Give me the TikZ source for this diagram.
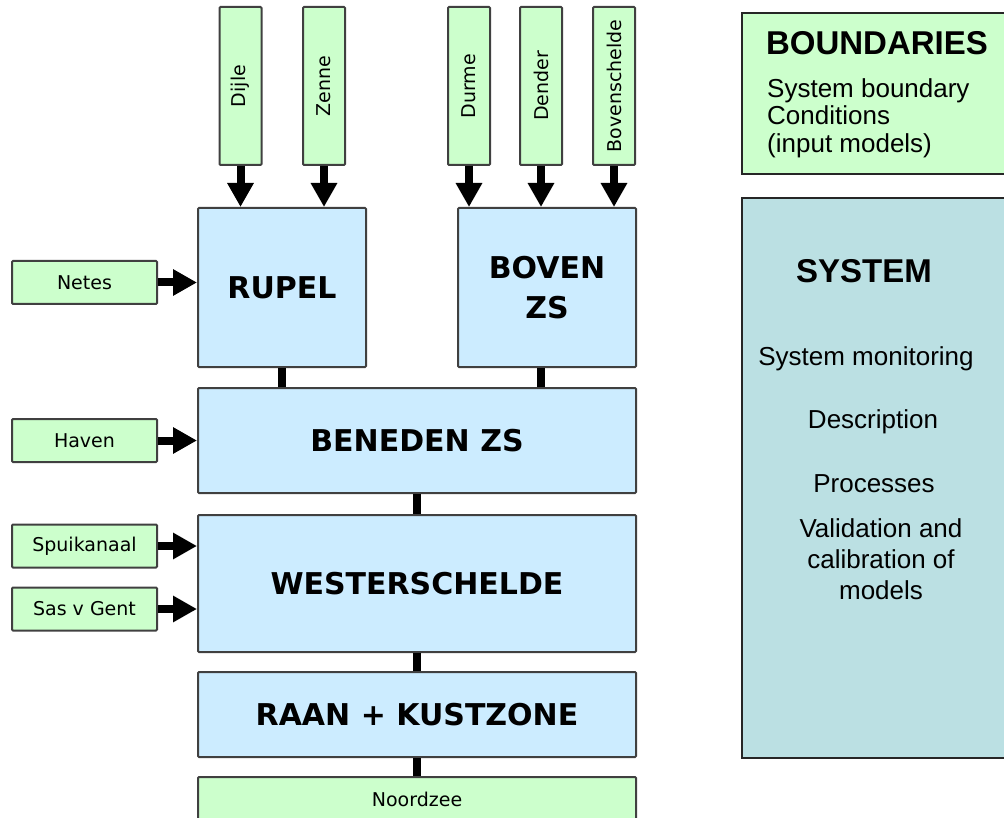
\documentclass[tikz,border=0pt]{standalone}
\usepackage{fontspec}
\setmainfont{Liberation Sans}
\newfontfamily\dejavu{DejaVu Sans}
\usetikzlibrary{arrows.meta}
\definecolor{inputgreen}{RGB}{204,255,204}
\definecolor{zoneblue}{RGB}{204,236,255}
\definecolor{systeal}{RGB}{187,224,227}
\definecolor{boxedge}{RGB}{64,64,64}
\begin{document}
\begin{tikzpicture}[x=1pt,y=-1pt,
    inbox/.style={draw=boxedge,line width=2pt,fill=inputgreen,rounded corners=1pt,
                  inner sep=0pt,font=\dejavu\fontsize{19}{22}\selectfont},
    topin/.style={inbox,minimum width=42pt,minimum height=158pt},
    leftin/.style={inbox,minimum width=145pt,minimum height=43pt},
    zone/.style={draw=boxedge,line width=2pt,fill=zoneblue,rounded corners=1pt,
                 inner sep=0pt,align=center,
                 font=\dejavu\bfseries\fontsize{30}{40}\selectfont},
    panel/.style={draw=black!85,line width=1.2pt,inner sep=0pt,minimum width=268pt},
    feed/.style={line width=8pt,-{Triangle[width=25pt,length=24pt]}},
    link/.style={line width=8pt},
    txt/.style={inner sep=0pt,font=\fontsize{26}{27.5}\selectfont},
    head/.style={inner sep=0pt,font=\bfseries\fontsize{33}{36}\selectfont}]
  \useasboundingbox (0,0) rectangle (1004,818);
  % estuary zones
  \node[zone,minimum width=168pt,minimum height=159pt] (rupel) at (282,287.5) {RUPEL};
  \node[zone,minimum width=178pt,minimum height=159pt] (boven) at (547,287.5) {BOVEN\\ZS};
  \node[zone,minimum width=438pt,minimum height=105pt] (beneden) at (417,440.5) {BENEDEN ZS};
  \node[zone,minimum width=438pt,minimum height=137pt] (wester) at (417,583.5) {WESTERSCHELDE};
  \node[zone,minimum width=438pt,minimum height=85pt] (raan) at (417,714.5) {RAAN + KUSTZONE};
  \node[inbox,minimum width=438pt,minimum height=45pt] (noordzee) at (417,799.5) {Noordzee};
  % upstream inputs
  \node[topin] (dijle) at (240.5,86) {\rotatebox{90}{Dijle}};
  \node[topin] (zenne) at (324,86) {\rotatebox{90}{Zenne}};
  \node[topin] (durme) at (469,86) {\rotatebox{90}{Durme}};
  \node[topin] (dender) at (541,86) {\rotatebox{90}{Dender}};
  \node[topin] (bovensch) at (614,86) {\rotatebox{90}{Bovenschelde}};
  % side inputs
  \node[leftin] (netes) at (84.5,282.5) {Netes};
  \node[leftin] (haven) at (84.5,440.5) {Haven};
  \node[leftin] (spui) at (84.5,546) {Spuikanaal};
  \node[leftin] (sas) at (84.5,609) {Sas v Gent};
  \draw[feed] (dijle.south) -- (dijle.south |- rupel.north);
  \draw[feed] (zenne.south) -- (zenne.south |- rupel.north);
  \draw[feed] (durme.south) -- (durme.south |- boven.north);
  \draw[feed] (dender.south) -- (dender.south |- boven.north);
  \draw[feed] (bovensch.south) -- (bovensch.south |- boven.north);
  \draw[feed] (netes.east) -- (netes.east -| rupel.west);
  \draw[feed] (haven.east) -- (haven.east -| beneden.west);
  \draw[feed] (spui.east) -- (spui.east -| wester.west);
  \draw[feed] (sas.east) -- (sas.east -| wester.west);
  \draw[link] (rupel.south) -- (rupel.south |- beneden.north);
  \draw[link] ([xshift=-6pt]boven.south) -- ([xshift=-6pt]boven.south |- beneden.north);
  \draw[link] (beneden.south) -- (wester.north);
  \draw[link] (wester.south) -- (raan.north);
  \draw[link] (raan.south) -- (noordzee.north);
  % legend
  \node[panel,fill=inputgreen,minimum height=161pt] (bound) at (876,93.5) {};
  \node[panel,fill=systeal,minimum height=560pt] (system) at (876,478) {};
  \node[head,anchor=base] (boundhead) at (877,55) {BOUNDARIES};
  \node[txt,anchor=north west,align=left] (boundtxt) at (767,78)
    {System boundary\\Conditions\\(input models)};
  \node[head,anchor=base] (syshead) at (864,283) {SYSTEM};
  \node[txt,anchor=base] (monitor) at (866,365) {System monitoring};
  \node[txt,anchor=base] (descr) at (873,428) {Description};
  \node[txt,anchor=base] (proc) at (874,492) {Processes};
  \node[txt,anchor=north,align=center,font=\fontsize{26}{31}\selectfont] (valid) at (881,518)
    {Validation and\\calibration of\\models};
\end{tikzpicture}
\end{document}
